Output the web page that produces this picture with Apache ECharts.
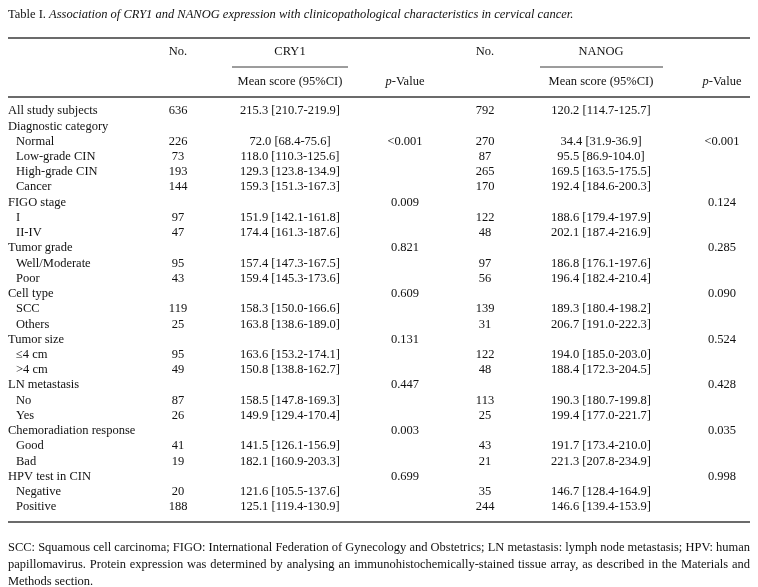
<!DOCTYPE html>
<html><head><meta charset="utf-8">
<script src="https://cdn.jsdelivr.net/npm/echarts@6/dist/echarts.min.js"></script>
<style>html,body{margin:0;padding:0;background:#fff}#c{width:758px;height:587px}</style>
</head><body><div id="c"></div>
<script>
// ---- data ----
const titleLead = 'Table I. ';
const titleText = 'Association of CRY1 and NANOG expression with clinicopathological characteristics in cervical cancer.';
const headerNo = 'No.';
const groupNames = ['CRY1', 'NANOG'];
const headerMean = 'Mean score (95%CI)';
const headerP = 'p';
const rowLabels = ['All study subjects','Diagnostic category','Normal','Low-grade CIN','High-grade CIN','Cancer',
  'FIGO stage','I','II-IV','Tumor grade','Well/Moderate','Poor','Cell type','SCC','Others',
  'Tumor size','≤4 cm','>4 cm','LN metastasis','No','Yes','Chemoradiation response','Good','Bad',
  'HPV test in CIN','Negative','Positive'];
const rowIndented = [0,0,1,1,1,1,0,1,1,0,1,1,0,1,1,0,1,1,0,1,1,0,1,1,0,1,1];
const cry1N = ['636','','226','73','193','144','','97','47','','95','43','','119','25','','95','49','','87','26','','41','19','','20','188'];
const cry1Mean = ['215.3 [210.7-219.9]','','72.0 [68.4-75.6]','118.0 [110.3-125.6]','129.3 [123.8-134.9]','159.3 [151.3-167.3]','',
  '151.9 [142.1-161.8]','174.4 [161.3-187.6]','','157.4 [147.3-167.5]','159.4 [145.3-173.6]','',
  '158.3 [150.0-166.6]','163.8 [138.6-189.0]','','163.6 [153.2-174.1]','150.8 [138.8-162.7]','',
  '158.5 [147.8-169.3]','149.9 [129.4-170.4]','','141.5 [126.1-156.9]','182.1 [160.9-203.3]','',
  '121.6 [105.5-137.6]','125.1 [119.4-130.9]'];
const cry1P = ['','','<0.001','','','','0.009','','','0.821','','','0.609','','','0.131','','','0.447','','','0.003','','','0.699','',''];
const nanogN = ['792','','270','87','265','170','','122','48','','97','56','','139','31','','122','48','','113','25','','43','21','','35','244'];
const nanogMean = ['120.2 [114.7-125.7]','','34.4 [31.9-36.9]','95.5 [86.9-104.0]','169.5 [163.5-175.5]','192.4 [184.6-200.3]','',
  '188.6 [179.4-197.9]','202.1 [187.4-216.9]','','186.8 [176.1-197.6]','196.4 [182.4-210.4]','',
  '189.3 [180.4-198.2]','206.7 [191.0-222.3]','','194.0 [185.0-203.0]','188.4 [172.3-204.5]','',
  '190.3 [180.7-199.8]','199.4 [177.0-221.7]','','191.7 [173.4-210.0]','221.3 [207.8-234.9]','',
  '146.7 [128.4-164.9]','146.6 [139.4-153.9]'];
const nanogP = ['','','<0.001','','','','0.124','','','0.285','','','0.090','','','0.524','','','0.428','','','0.035','','','0.998','',''];
const footnoteLines = [
  'SCC: Squamous cell carcinoma; FIGO: International Federation of Gynecology and Obstetrics; LN metastasis: lymph node metastasis; HPV: human',
  'papillomavirus. Protein expression was determined by analysing an immunohistochemically-stained tissue array, as described in the Materials and',
  'Methods section.'
];

// ---- layout ----
const FONT = '"Liberation Serif","Times New Roman",serif';
const FS = 12.5;
const COLOR = '#111';
const RULE = '#3a3a3a';
const L = 8, R = 750;
const colX = {label: 8, n1: 178, m1: 290, p1: 405, n2: 485, m2: 601, p2: 722};
const row0 = 111, rowH = 15.23;

const cv = document.createElement('canvas').getContext('2d');
function measure(t, fs, style) { cv.font = (style||'') + ' ' + fs + 'px ' + FONT; return cv.measureText(t).width; }

const g = [];
function txt(x, y, t, align, extra) {
  if (t === '' || t == null) return;
  g.push(Object.assign({type:'text', x:x, y:y, silent:true,
    style:{text:t, fill:COLOR, font: FS+'px '+FONT, textAlign:align||'left', textVerticalAlign:'middle'}}, extra||{}));
}
function line(x1,y1,x2,y2,w){ g.push({type:'line', silent:true, shape:{x1,y1,x2,y2}, style:{stroke:RULE, lineWidth:w}}); }

// title
g.push({type:'text', x:L, y:15, silent:true, style:{
  text:'{a|'+titleLead+'}{b|'+titleText+'}', textVerticalAlign:'middle',
  rich:{a:{fontFamily:FONT, fontSize:FS, fill:COLOR}, b:{fontFamily:FONT, fontSize:FS, fontStyle:'italic', fill:COLOR}}}});

// rules
line(L, 38, R, 38, 1.5);
line(L, 97, R, 97, 1.5);
line(L, 522, R, 522, 1.5);
line(232, 67, 348, 67, 1);
line(540, 67, 663, 67, 1);

// header
txt(colX.n1, 52, headerNo, 'center');
txt(colX.n2, 52, headerNo, 'center');
txt(colX.m1, 52, groupNames[0], 'center');
txt(colX.m2, 52, groupNames[1], 'center');
txt(colX.m1, 82, headerMean, 'center');
txt(colX.m2, 82, headerMean, 'center');
[colX.p1, colX.p2].forEach(function(cx){
  g.push({type:'text', x:cx, y:82, silent:true, style:{
    text:'{i|'+headerP+'}{r|-Value}', textAlign:'center', textVerticalAlign:'middle',
    rich:{i:{fontFamily:FONT,fontSize:FS,fontStyle:'italic',fill:COLOR}, r:{fontFamily:FONT,fontSize:FS,fill:COLOR}}}});
});

// body
rowLabels.forEach(function(lab, i){
  const y = row0 + i*rowH;
  txt(colX.label + (rowIndented[i] ? 8 : 0), y, lab, 'left');
  txt(colX.n1, y, cry1N[i], 'center');
  txt(colX.m1, y, cry1Mean[i], 'center');
  txt(colX.p1, y, cry1P[i], 'center');
  txt(colX.n2, y, nanogN[i], 'center');
  txt(colX.m2, y, nanogMean[i], 'center');
  txt(colX.p2, y, nanogP[i], 'center');
});

// footnote: horizontally condensed glyphs, justified by word spacing
const ffs = 12.5;
const W = R - L;
const sc = Math.min(1, W / measure(footnoteLines[0], ffs), W / measure(footnoteLines[1], ffs));
const footY = [548, 565, 582];
footnoteLines.forEach(function(ln, li){
  const last = li === footnoteLines.length-1;
  const words = ln.split(' ');
  const ws = words.map(function(w){return measure(w, ffs) * sc;});
  const total = ws.reduce(function(a,b){return a+b;},0);
  const gap = last ? measure(' ', ffs) * sc : (W - total) / (words.length-1);
  let x = L;
  words.forEach(function(w, k){
    g.push({type:'text', x:x, y:footY[li], scaleX:sc, silent:true,
      style:{text:w, fill:COLOR, font: ffs+'px '+FONT, textVerticalAlign:'middle'}});
    x += ws[k] + gap;
  });
});

const chart = echarts.init(document.getElementById('c'), null, {renderer:'canvas'});
chart.setOption({backgroundColor:'#fff', animation:false, graphic:{elements:g}});
</script></body></html>
